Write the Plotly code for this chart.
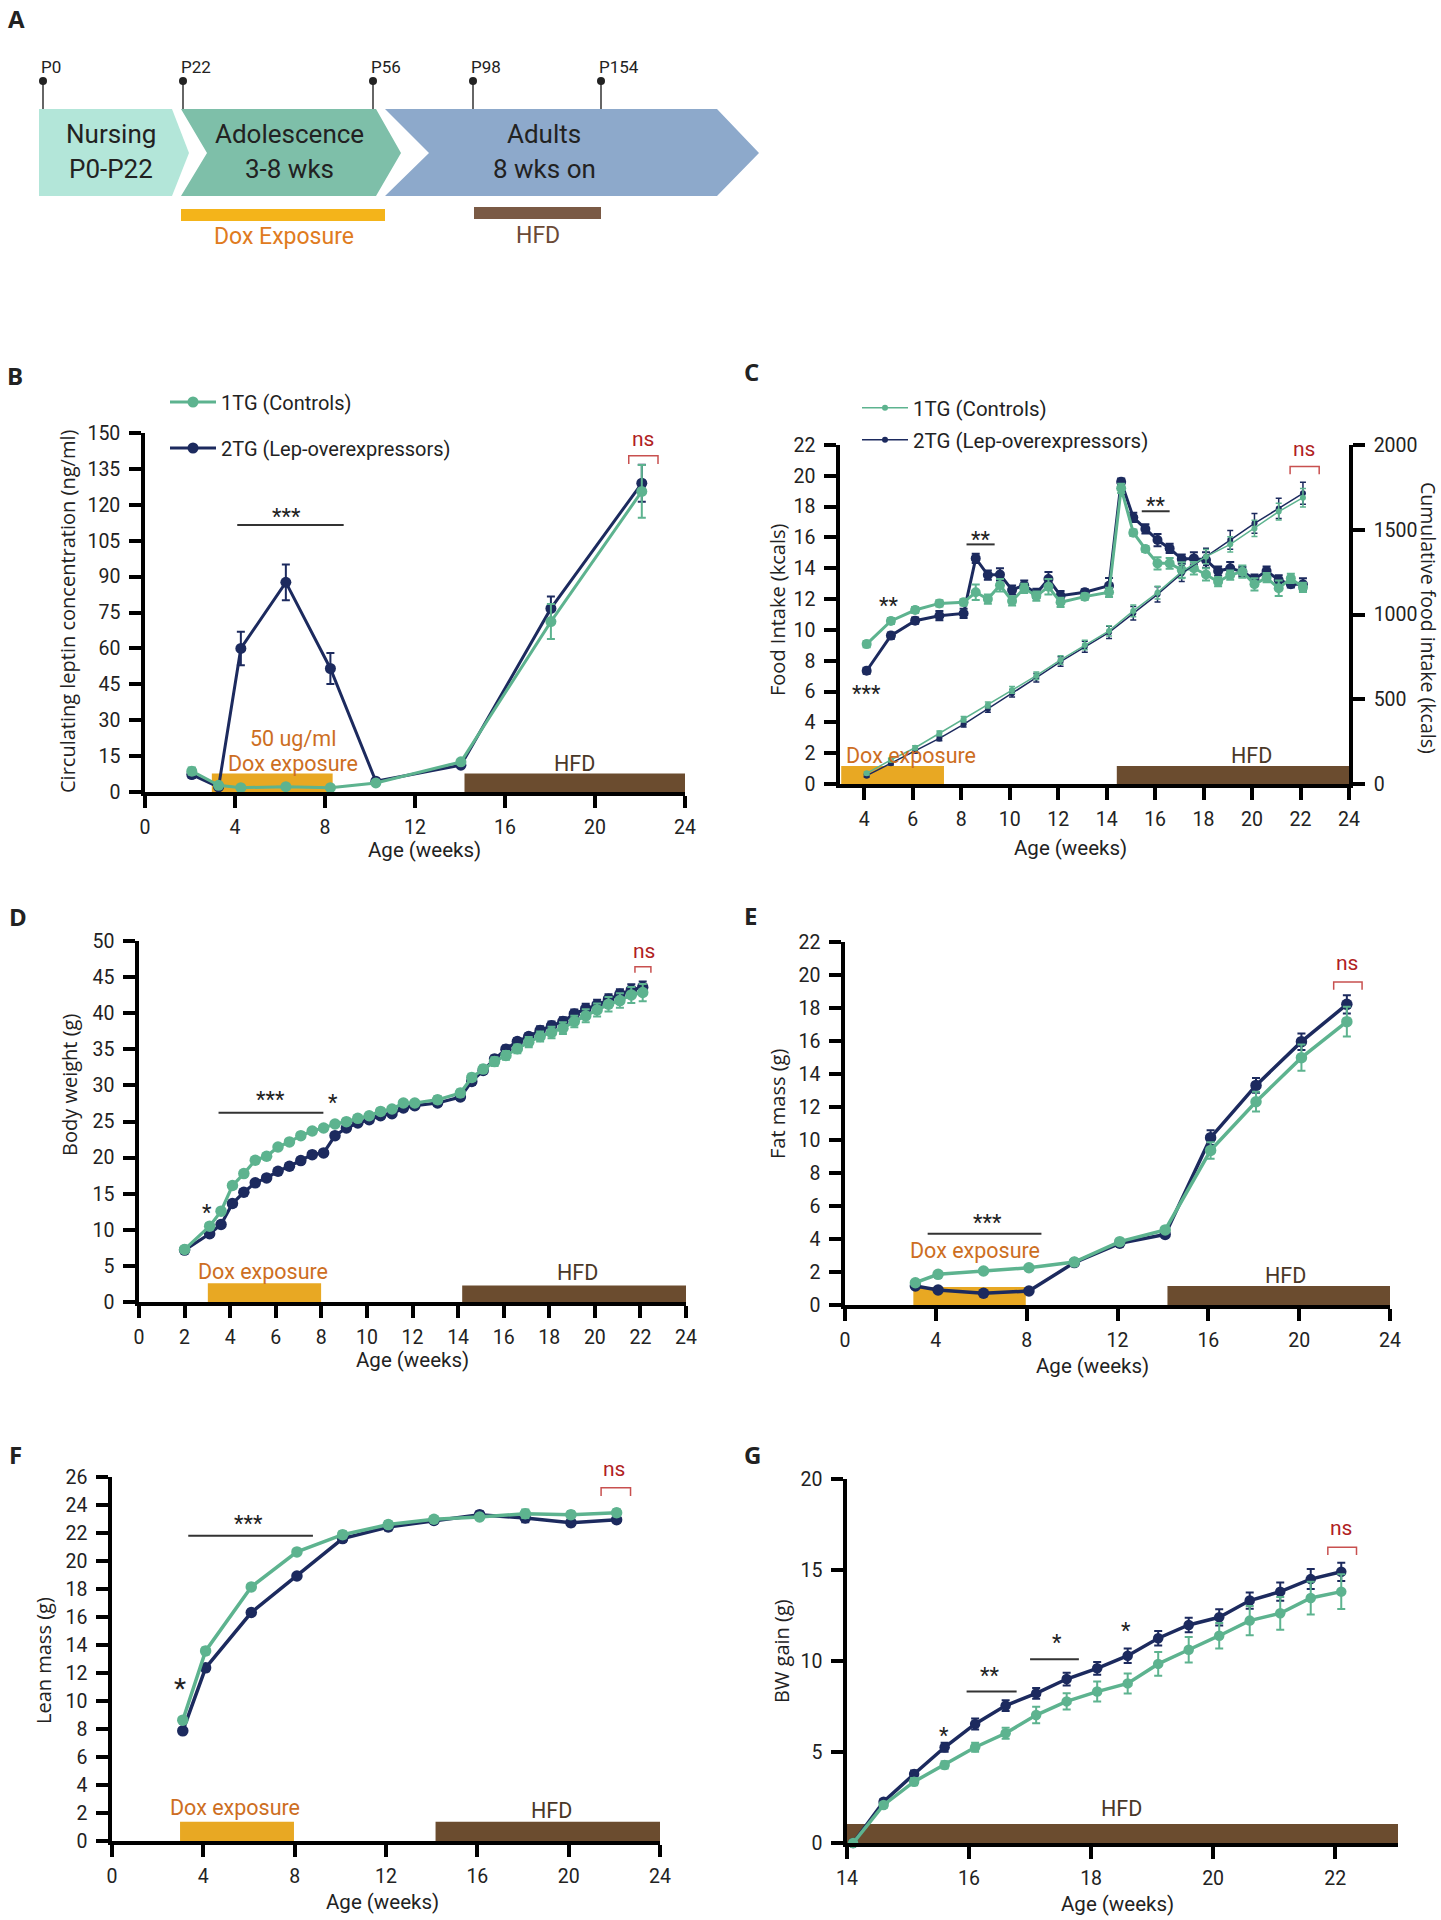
import plotly.graph_objects as go

W, H = 1441, 1920

# ---------------- data ----------------
groups = ["1TG (Controls)", "2TG (Lep-overexpressors)"]

tl_pins = ["P0", "P22", "P56", "P98", "P154"]
tl_stage_top = ["Nursing", "Adolescence", "Adults"]
tl_stage_bottom = ["P0-P22", "3-8 wks", "8 wks on"]

# B: circulating leptin (ng/ml)
b_weeks = [2.08, 3.27, 4.26, 6.26, 8.24, 10.26, 14.04, 18.04, 22.08]
b_lep_1tg = [8.7, 2.8, 1.8, 2.2, 1.8, 3.8, 12.6, 71.2, 125.6]
b_sem_1tg = [1.5, 0.8, 0.6, 0.6, 0.6, 0.8, 1.2, 7.3, 11.0]
b_lep_2tg = [7.3, 2.1, 60.0, 87.6, 51.6, 4.5, 11.2, 76.7, 129.0]
b_sem_2tg = [1.5, 0.8, 7.0, 7.5, 6.5, 0.8, 1.0, 5.0, 7.7]

# C: food intake (kcals) and cumulative food intake (kcals)
c_weeks = [4.1, 5.1, 6.1, 7.1, 8.1, 8.6, 9.1, 9.6, 10.1, 10.6, 11.1, 11.6, 12.1, 13.1, 14.1,
           14.6, 15.1, 15.6, 16.1, 16.6, 17.1, 17.6, 18.1, 18.6, 19.1, 19.6, 20.1, 20.6, 21.1, 21.6, 22.1]
c_food_1tg = [9.08, 10.58, 11.29, 11.72, 11.79, 12.44, 12.0, 12.9, 11.88, 12.7, 12.2, 12.8, 11.79, 12.16, 12.44,
              19.19, 16.31, 15.25, 14.32, 14.32, 13.89, 14.0, 13.6, 13.13, 13.56, 13.78, 12.96, 13.39, 12.7, 13.35, 12.76]
c_food_sem_1tg = [0.2, 0.2, 0.2, 0.2, 0.2, 0.5, 0.3, 0.4, 0.3, 0.3, 0.3, 0.5, 0.3, 0.2, 0.3,
                  0.3, 0.2, 0.2, 0.4, 0.35, 0.5, 0.4, 0.4, 0.3, 0.3, 0.4, 0.4, 0.3, 0.5, 0.3, 0.3]
c_food_2tg = [7.35, 9.63, 10.6, 10.92, 11.07, 14.64, 13.56, 13.6, 12.59, 12.9, 12.37, 13.3, 12.22, 12.44, 12.87,
              19.62, 17.3, 16.55, 15.83, 15.29, 14.6, 14.64, 14.54, 13.82, 14.0, 13.78, 13.3, 13.82, 13.24, 12.96, 12.96]
c_food_sem_2tg = [0.2, 0.2, 0.2, 0.3, 0.3, 0.3, 0.3, 0.4, 0.3, 0.3, 0.3, 0.45, 0.3, 0.2, 0.5,
                  0.2, 0.3, 0.3, 0.4, 0.3, 0.3, 0.4, 0.5, 0.3, 0.4, 0.3, 0.3, 0.3, 0.3, 0.2, 0.4]
c_cum_weeks = [4.1, 5.1, 6.1, 7.1, 8.1, 9.1, 10.1, 11.1, 12.1, 13.1, 14.1, 15.1, 16.1, 17.1, 18.1, 19.1, 20.1, 21.1, 22.1]
c_cum_1tg = [63, 142, 214, 299, 382, 466, 555, 639, 732, 820, 903, 1021, 1129, 1253, 1341, 1414, 1508, 1607, 1689]
c_cum_sem_1tg = [8, 10, 12, 14, 16, 18, 20, 22, 25, 28, 30, 35, 38, 40, 42, 45, 48, 50, 55]
c_cum_2tg = [49, 122, 195, 269, 352, 442, 535, 627, 722, 810, 895, 1007, 1119, 1243, 1341, 1440, 1538, 1626, 1715]
c_cum_sem_2tg = [8, 10, 12, 14, 16, 18, 22, 25, 28, 32, 36, 40, 45, 48, 50, 55, 58, 60, 65]

# D: body weight (g)
d_weeks = [2.0, 3.1, 3.6, 4.1, 4.6, 5.1, 5.6, 6.1, 6.6, 7.1, 7.6, 8.1, 8.6, 9.1, 9.6, 10.1, 10.6, 11.1, 11.6, 12.1,
           13.1, 14.1, 14.6, 15.1, 15.6, 16.1, 16.6, 17.1, 17.6, 18.1, 18.6, 19.1, 19.6, 20.1, 20.6, 21.1, 21.6, 22.1]
d_bw_1tg = [7.28, 10.5, 12.58, 16.13, 17.79, 19.63, 20.18, 21.47, 22.17, 23.04, 23.69, 24.1, 24.65, 24.98, 25.44,
            25.8, 26.4, 26.73, 27.56, 27.56, 28.02, 28.94, 31.1, 32.26, 33.3, 34.15, 35.07, 35.99, 36.77, 37.33,
            37.93, 38.85, 39.63, 40.46, 41.24, 41.75, 42.53, 42.86]
d_sem_1tg = [0.3, 0.4, 0.4, 0.4, 0.4, 0.4, 0.4, 0.4, 0.4, 0.4, 0.4, 0.4, 0.4, 0.4, 0.4,
             0.4, 0.4, 0.4, 0.4, 0.4, 0.5, 0.5, 0.5, 0.5, 0.6, 0.6, 0.6, 0.7, 0.7, 0.8,
             0.8, 0.8, 0.9, 0.9, 1.0, 1.0, 1.1, 1.2]
d_bw_2tg = [7.19, 9.45, 10.74, 13.64, 15.2, 16.5, 17.19, 18.11, 18.8, 19.59, 20.41, 20.65, 23.04, 24.1, 24.79,
            25.25, 25.81, 26.08, 26.87, 27.19, 27.56, 28.39, 30.55, 32.07, 33.64, 35.02, 36.08, 36.77, 37.6, 38.25,
            38.85, 39.9, 40.6, 41.15, 41.94, 42.63, 43.2, 43.6]
d_sem_2tg = [0.3, 0.4, 0.4, 0.4, 0.4, 0.4, 0.4, 0.4, 0.4, 0.4, 0.4, 0.4, 0.4, 0.4, 0.4,
             0.4, 0.4, 0.4, 0.4, 0.4, 0.4, 0.4, 0.5, 0.5, 0.5, 0.5, 0.5, 0.5, 0.6, 0.6,
             0.6, 0.6, 0.7, 0.7, 0.7, 0.7, 0.8, 0.8]

# E: fat mass (g)
e_weeks = [3.1, 4.1, 6.1, 8.1, 10.1, 12.1, 14.1, 16.1, 18.1, 20.1, 22.1]
e_fat_1tg = [1.35, 1.86, 2.06, 2.26, 2.6, 3.84, 4.55, 9.37, 12.32, 14.99, 17.17]
e_sem_1tg = [0.1, 0.1, 0.1, 0.1, 0.1, 0.15, 0.15, 0.5, 0.6, 0.8, 0.9]
e_fat_2tg = [1.15, 0.91, 0.71, 0.85, 2.57, 3.74, 4.28, 10.14, 13.31, 15.96, 18.22]
e_sem_2tg = [0.1, 0.1, 0.1, 0.1, 0.1, 0.1, 0.1, 0.45, 0.45, 0.5, 0.55]

# F: lean mass (g)
f_weeks = [3.1, 4.1, 6.1, 8.1, 10.1, 12.1, 14.1, 16.1, 18.1, 20.1, 22.1]
f_lean_1tg = [8.63, 13.58, 18.15, 20.65, 21.88, 22.6, 22.98, 23.14, 23.38, 23.31, 23.45]
f_sem_1tg = [0.2, 0.25, 0.2, 0.2, 0.25, 0.25, 0.2, 0.2, 0.3, 0.25, 0.25]
f_lean_2tg = [7.87, 12.37, 16.32, 18.93, 21.6, 22.43, 22.9, 23.31, 23.07, 22.74, 22.95]
f_sem_2tg = [0.2, 0.25, 0.2, 0.2, 0.25, 0.25, 0.2, 0.25, 0.3, 0.25, 0.2]

# G: body weight gain on HFD (g)
g_weeks = [14.1, 14.6, 15.1, 15.6, 16.1, 16.6, 17.1, 17.6, 18.1, 18.6, 19.1, 19.6, 20.1, 20.6, 21.1, 21.6, 22.1]
g_gain_1tg = [0, 2.09, 3.37, 4.29, 5.26, 6.03, 7.03, 7.78, 8.32, 8.77, 9.84, 10.62, 11.39, 12.22, 12.62, 13.46, 13.81]
g_sem_1tg = [0, 0.15, 0.2, 0.2, 0.25, 0.3, 0.45, 0.45, 0.55, 0.55, 0.65, 0.7, 0.7, 0.8, 0.9, 0.9, 0.95]
g_gain_2tg = [0, 2.27, 3.79, 5.26, 6.54, 7.55, 8.22, 9.01, 9.6, 10.29, 11.25, 11.98, 12.4, 13.32, 13.81, 14.5, 14.9]
g_sem_2tg = [0, 0.15, 0.2, 0.25, 0.3, 0.3, 0.3, 0.35, 0.35, 0.4, 0.4, 0.4, 0.45, 0.45, 0.5, 0.55, 0.5]

# ---------------- style ----------------
GREEN = "#5DB38F"
NAVY = "#1C2A5E"
DOX = "#E8A823"
HFD = "#6B4C2F"
DOXTXT = "#CD6E22"
HFDTXT = "#4A3828"
NSC = "#B01E23"
NSB = "#C8504F"
TXT = "#222222"
TF = "Roboto"
YF = "Open Sans"


def px(x):
    return x / W


def py(y):
    return 1 - y / H


fig = go.Figure()


def pair(xa, ya, w1, v1, e1, w2, v2, e2, ms, lw, legs=(None, None), eth=2, ew=4):
    specs = [(groups[1], w2, v2, e2, NAVY, legs[1]), (groups[0], w1, v1, e1, GREEN, legs[0])]
    for name, wk, v, e, col, lg in specs:
        fig.add_trace(go.Scatter(
            x=wk, y=v, mode="lines+markers", name=name, xaxis=xa, yaxis=ya,
            line=dict(color=col, width=lw), marker=dict(color=col, size=ms),
            error_y=dict(type="data", array=e, color=col, thickness=eth, width=ew),
            showlegend=lg is not None, legend=lg if lg else "legend", cliponaxis=False))


def ann(text, x, y, xref, yref, size=19, color=TXT, family=TF, xanchor="center", yanchor="middle", **kw):
    fig.add_annotation(text=text, x=x, y=y, xref=xref, yref=yref, showarrow=False,
                       xanchor=xanchor, yanchor=yanchor,
                       font=dict(family=family, size=size, color=color), **kw)


def rect(xref, yref, x0, x1, y0, y1, color, layer="below"):
    fig.add_shape(type="rect", xref=xref, yref=yref, x0=x0, x1=x1, y0=y0, y1=y1,
                  fillcolor=color, line=dict(width=0), layer=layer)


def sigline(xref, yref, x0, x1, y):
    fig.add_shape(type="line", xref=xref, yref=yref, x0=x0, x1=x1, y0=y, y1=y,
                  line=dict(color="#333333", width=2))


def bracket(xref, yref, x0, x1, ytop, ylow):
    fig.add_shape(type="path", xref=xref, yref=yref,
                  path=f"M {x0},{ylow} L {x0},{ytop} L {x1},{ytop} L {x1},{ylow}",
                  line=dict(color=NSB, width=1.5))


AXCOMMON = dict(automargin=False, showline=True, linecolor="black", linewidth=3.5, ticks="outside",
                ticklen=12, tickwidth=3.5, tickcolor="black", showgrid=False, zeroline=False,
                tickfont=dict(family=TF, size=19.5, color=TXT))


def xaxis(l, r, rng, tv, anchor):
    return dict(domain=[px(l), px(r)], range=rng, tickvals=tv, anchor=anchor,
                ticklabelstandoff=3, **AXCOMMON)


def yaxis(b, t, rng, tv, anchor, **kw):
    d = dict(domain=[py(b), py(t)], range=rng, tickvals=tv, anchor=anchor,
             ticklabelstandoff=5, **AXCOMMON)
    d.update(kw)
    return d


# ---------------- Panel A (schematic) ----------------
def ppath(points):
    return "M " + " L ".join(f"{px(x)},{py(y)}" for x, y in points) + " Z"


stage_shapes = [
    ([(39, 109), (172, 109), (189, 153), (172, 196), (39, 196)], "#B3E6D9"),
    ([(181, 109), (376, 109), (401, 153), (376, 196), (181, 196), (207, 153)], "#7EBFA9"),
    ([(385, 109), (717, 109), (759, 153), (717, 196), (385, 196), (429, 153)], "#8DA9CB"),
]
for pts, col in stage_shapes:
    fig.add_shape(type="path", xref="paper", yref="paper", path=ppath(pts),
                  fillcolor=col, line=dict(width=0))

stage_cx = [111, 289, 544]
for i in range(3):
    ann(tl_stage_top[i], px(stage_cx[i]), py(134), "paper", "paper", size=26)
    ann(tl_stage_bottom[i], px(stage_cx[i]), py(169), "paper", "paper", size=26)

pin_x = [43, 183, 373, 473, 601]
for lab, x in zip(tl_pins, pin_x):
    fig.add_shape(type="line", xref="paper", yref="paper", x0=px(x), x1=px(x), y0=py(82), y1=py(109),
                  line=dict(color="#333333", width=1.5))
    fig.add_shape(type="circle", xref="paper", yref="paper", x0=px(x - 4), x1=px(x + 4),
                  y0=py(85), y1=py(77), fillcolor="#222222", line=dict(width=0))
    ann(lab, px(x - 4), py(67), "paper", "paper", size=17, xanchor="left")

rect("paper", "paper", px(181), px(385), py(221), py(209), "#F4B41A", layer="above")
ann("Dox Exposure", px(284), py(236), "paper", "paper", size=23, color="#E07B20")
rect("paper", "paper", px(474), px(601), py(219), py(207), "#7A5A45", layer="above")
ann("HFD", px(538), py(235), "paper", "paper", size=23, color="#6B4A36")

# ---------------- Panel B ----------------
pair("x", "y", b_weeks, b_lep_1tg, b_sem_1tg, b_weeks, b_lep_2tg, b_sem_2tg, 11, 3,
     legs=("legend", "legend2"))
rect("x", "y", 2.97, 8.34, 0, 7.7, DOX)
rect("x", "y", 14.2, 24, 0, 7.7, HFD)
ann("50 ug/ml", 6.57, 22.3, "x", "y", size=21.5, color=DOXTXT)
ann("Dox exposure", 6.57, 11.9, "x", "y", size=21.5, color=DOXTXT)
ann("HFD", 19.1, 11.9, "x", "y", size=21.5, color=HFDTXT)
sigline("x", "y", 4.1, 8.83, 111.6)
ann("***", 6.3, 115, "x", "y", size=22)
bracket("x", "y", 21.5, 22.8, 140.5, 137)
ann("ns", 22.15, 147.5, "x", "y", size=21, color=NSC)

# ---------------- Panel C ----------------
pair("x2", "y3", c_cum_weeks, c_cum_1tg, c_cum_sem_1tg, c_cum_weeks, c_cum_2tg, c_cum_sem_2tg, 6, 1.5,
     legs=("legend3", "legend4"), eth=1.5, ew=3)
pair("x2", "y2", c_weeks, c_food_1tg, c_food_sem_1tg, c_weeks, c_food_2tg, c_food_sem_2tg, 10, 3)
rect("x2", "y2", 3.05, 7.29, 0, 1.17, DOX)
rect("x2", "y2", 14.42, 24, 0, 1.17, HFD)
ann("Dox exposure", 3.15, 1.84, "x2", "y2", size=21.5, color=DOXTXT, xanchor="left")
ann("HFD", 19.97, 1.88, "x2", "y2", size=21.5, color=HFDTXT)
ann("***", 4.1, 5.9, "x2", "y2", size=22)
ann("**", 5.0, 11.6, "x2", "y2", size=22)
sigline("x2", "y2", 8.22, 9.38, 15.55)
ann("**", 8.8, 15.9, "x2", "y2", size=22)
sigline("x2", "y2", 15.45, 16.6, 17.7)
ann("**", 16.0, 18.1, "x2", "y2", size=22)
bracket("x2", "y2", 21.57, 22.77, 20.6, 20.1)
ann("ns", 22.15, 21.75, "x2", "y2", size=21, color=NSC)

# ---------------- Panel D ----------------
pair("x3", "y4", d_weeks, d_bw_1tg, d_sem_1tg, d_weeks, d_bw_2tg, d_sem_2tg, 11.5, 3.2)
rect("x3", "y4", 3.02, 7.99, 0, 2.58, DOX)
rect("x3", "y4", 14.18, 24, 0, 2.3, HFD)
ann("Dox exposure", 5.45, 4.29, "x3", "y4", size=21.5, color=DOXTXT)
ann("HFD", 19.23, 4.15, "x3", "y4", size=21.5, color=HFDTXT)
sigline("x3", "y4", 3.49, 8.09, 26.2)
ann("***", 5.79, 28.0, "x3", "y4", size=22)
ann("*", 8.53, 27.6, "x3", "y4", size=22)
ann("*", 3.0, 12.4, "x3", "y4", size=22)
bracket("x3", "y4", 21.76, 22.46, 46.45, 45.6)
ann("ns", 22.16, 48.6, "x3", "y4", size=21, color=NSC)

# ---------------- Panel E ----------------
pair("x4", "y5", e_weeks, e_fat_1tg, e_sem_1tg, e_weeks, e_fat_2tg, e_sem_2tg, 11.5, 3.5)
rect("x4", "y5", 3.01, 7.96, 0, 1.09, DOX)
rect("x4", "y5", 14.2, 24, 0, 1.15, HFD)
ann("Dox exposure", 5.72, 3.31, "x4", "y5", size=21.5, color=DOXTXT)
ann("HFD", 19.39, 1.8, "x4", "y5", size=21.5, color=HFDTXT)
sigline("x4", "y5", 3.64, 8.65, 4.32)
ann("***", 6.28, 5.0, "x4", "y5", size=22)
bracket("x4", "y5", 21.52, 22.77, 19.58, 19.1)
ann("ns", 22.12, 20.75, "x4", "y5", size=21, color=NSC)

# ---------------- Panel F ----------------
pair("x5", "y6", f_weeks, f_lean_1tg, f_sem_1tg, f_weeks, f_lean_2tg, f_sem_2tg, 11.5, 3.5)
rect("x5", "y6", 2.98, 7.97, 0, 1.38, DOX)
rect("x5", "y6", 14.17, 24, 0, 1.38, HFD)
ann("Dox exposure", 5.38, 2.38, "x5", "y6", size=21.5, color=DOXTXT)
ann("HFD", 19.23, 2.21, "x5", "y6", size=21.5, color=HFDTXT)
sigline("x5", "y6", 3.34, 8.8, 21.81)
ann("***", 5.98, 22.7, "x5", "y6", size=22)
ann("*", 2.98, 10.9, "x5", "y6", size=28)
bracket("x5", "y6", 21.42, 22.71, 25.24, 24.64)
ann("ns", 21.97, 25.9, "x5", "y6", size=21, color=NSC, yshift=9)

# ---------------- Panel G ----------------
pair("x6", "y7", g_weeks, g_gain_1tg, g_sem_1tg, g_weeks, g_gain_2tg, g_sem_2tg, 10.5, 3.5)
rect("x6", "y7", 14.0, 23.03, 0, 1.04, HFD)
ann("HFD", 18.5, 1.9, "x6", "y7", size=21.5, color=HFDTXT)
ann("*", 15.59, 5.9, "x6", "y7", size=22)
sigline("x6", "y7", 15.96, 16.78, 8.32)
ann("**", 16.33, 9.2, "x6", "y7", size=22)
sigline("x6", "y7", 17.0, 17.8, 10.1)
ann("*", 17.44, 11.0, "x6", "y7", size=22)
ann("*", 18.58, 11.7, "x6", "y7", size=22)
bracket("x6", "y7", 21.88, 22.35, 16.25, 15.82)
ann("ns", 22.09, 17.3, "x6", "y7", size=21, color=NSC)

# ---------------- panel letters & axis titles ----------------
for lab, x, y in [("A", 6, 18), ("B", 5, 375), ("C", 742, 372), ("D", 7, 916),
                  ("E", 742, 915), ("F", 7, 1454), ("G", 742, 1454)]:
    ann(f"<b>{lab}</b>", px(x), py(y), "paper", "paper", size=24, family="Open Sans", xanchor="left")

for t, x, y in [("Circulating leptin concentration (ng/ml)", 67, 612), ("Food Intake (kcals)", 778, 610),
                ("Body weight (g)", 69, 1085), ("Fat mass (g)", 777, 1104),
                ("Lean mass (g)", 43, 1661), ("BW gain (g)", 781, 1651)]:
    ann(t, px(x), py(y), "paper", "paper", size=20, family=YF, textangle=-90)
ann("Cumulative food intake (kcals)", px(1429), py(618), "paper", "paper", size=19.5, family=YF,
    textangle=90)

for x, y in [(424, 850), (1070, 848), (412, 1360), (1092, 1366), (382, 1902), (1117, 1904)]:
    ann("Age (weeks)", px(x), py(y), "paper", "paper", size=20.5)

# ---------------- axes ----------------
fig.update_layout(
    xaxis=xaxis(145, 685, [0, 24], [0, 4, 8, 12, 16, 20, 24], "y"),
    yaxis=yaxis(792, 433, [0, 150], [0, 15, 30, 45, 60, 75, 90, 105, 120, 135, 150], "x"),
    xaxis2=xaxis(840, 1349, [3, 24], [4, 6, 8, 10, 12, 14, 16, 18, 20, 22, 24], "y2"),
    yaxis2=yaxis(784, 445, [0, 22], [0, 2, 4, 6, 8, 10, 12, 14, 16, 18, 20, 22], "x2"),
    yaxis3=yaxis(784, 445, [0, 2000], [0, 500, 1000, 1500, 2000], "x2", overlaying="y2", side="right"),
    xaxis3=xaxis(139, 686, [0, 24], [0, 2, 4, 6, 8, 10, 12, 14, 16, 18, 20, 22, 24], "y4"),
    yaxis4=yaxis(1302, 941, [0, 50], [0, 5, 10, 15, 20, 25, 30, 35, 40, 45, 50], "x3"),
    xaxis4=xaxis(845, 1390, [0, 24], [0, 4, 8, 12, 16, 20, 24], "y5"),
    yaxis5=yaxis(1305, 942, [0, 22], [0, 2, 4, 6, 8, 10, 12, 14, 16, 18, 20, 22], "x4"),
    xaxis5=xaxis(112, 660, [0, 24], [0, 4, 8, 12, 16, 20, 24], "y6"),
    yaxis6=yaxis(1841, 1477, [0, 26], [0, 2, 4, 6, 8, 10, 12, 14, 16, 18, 20, 22, 24, 26], "x5"),
    xaxis6=xaxis(847, 1398, [14, 23.03], [14, 16, 18, 20, 22], "y7"),
    yaxis7=yaxis(1843, 1479, [0, 20], [0, 5, 10, 15, 20], "x6"),
)

legcommon = dict(xanchor="left", yanchor="middle", bgcolor="rgba(0,0,0,0)", borderwidth=0)
fig.update_layout(
    width=W, height=H, margin=dict(l=0, r=0, t=0, b=0, autoexpand=False),
    paper_bgcolor="white", plot_bgcolor="rgba(0,0,0,0)", showlegend=True,
    legend=dict(x=px(165), y=py(402), font=dict(family=TF, size=20, color=TXT), itemwidth=46, **legcommon),
    legend2=dict(x=px(165), y=py(448), font=dict(family=TF, size=20, color=TXT), itemwidth=46, **legcommon),
    legend3=dict(x=px(857), y=py(408), font=dict(family=TF, size=20.5, color=TXT), itemwidth=46, **legcommon),
    legend4=dict(x=px(857), y=py(440), font=dict(family=TF, size=20.5, color=TXT), itemwidth=46, **legcommon),
)

fig.write_html(
    "out.html",
    config={"displayModeBar": False},
    post_script="document.body.style.margin='0';document.body.style.padding='0';"
                "document.body.style.overflow='hidden';",
)
